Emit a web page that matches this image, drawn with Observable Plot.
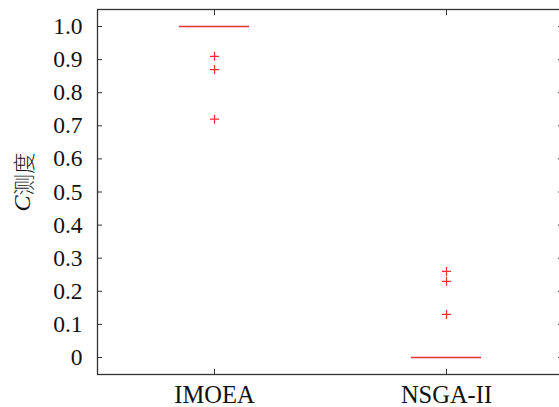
<!DOCTYPE html>
<html>
<head>
<meta charset="utf-8">
<script src="https://cdn.jsdelivr.net/npm/d3@7"></script>
<script src="https://cdn.jsdelivr.net/npm/@observablehq/plot@0.6"></script>
<style>
  html, body { margin: 0; padding: 0; background: #fff; overflow: hidden; }
  #chart svg { display: block; max-width: none; }
</style>
</head>
<body>
<div id="chart"></div>
<script>
// Data
const methods = ["IMOEA", "NSGA-II"];
const medians = [1.0, 0.0];
const outlierMethod = ["IMOEA", "IMOEA", "IMOEA", "NSGA-II", "NSGA-II", "NSGA-II"];
const outlierValues = [0.91, 0.87, 0.72, 0.26, 0.23, 0.13];
const yTicks = [0, 0.1, 0.2, 0.3, 0.4, 0.5, 0.6, 0.7, 0.8, 0.9, 1.0];

const medianData = methods.map((m, i) => ({method: m, value: medians[i]}));
const outlierData = outlierMethod.map((m, i) => ({method: m, value: outlierValues[i]}));

const red = "#e8302f";
const frameColor = "#333";
const serif = "'Liberation Serif', 'DejaVu Serif', serif";

const plot = Plot.plot({
  width: 563,
  height: 407,
  marginLeft: 97,
  marginRight: 1,
  marginTop: 9,
  marginBottom: 33,
  style: {fontFamily: serif, background: "#fff", overflow: "visible"},
  x: {type: "band", domain: methods, paddingInner: 0.7, paddingOuter: 0.348, align: 0.5, label: null},
  y: {domain: [-0.0514, 1.0514], label: null},
  marks: [
    Plot.frame({stroke: frameColor, strokeWidth: 1.3}),
    // y labels
    Plot.axisY(yTicks, {anchor: "left", tickSize: 0, tickPadding: 15, fontSize: 23.5, fill: "#111",
      tickFormat: d => d === 0 ? "0" : d.toFixed(1), label: null}),
    // inward ticks left & right
    Plot.axisY(yTicks, {anchor: "left", tickSize: -5, tickFormat: () => "", stroke: frameColor, label: null}),
    Plot.axisY(yTicks, {anchor: "right", tickSize: -5, tickFormat: () => "", stroke: frameColor, label: null}),
    // x labels
    Plot.axisX({anchor: "bottom", tickSize: 0, tickPadding: 11, fontSize: 24.5, fill: "#111", label: null}),
    Plot.axisX({anchor: "bottom", tickSize: -5, tickFormat: () => "", stroke: frameColor, label: null}),
    Plot.axisX({anchor: "top", tickSize: -5, tickFormat: () => "", stroke: frameColor, label: null}),
    // medians
    Plot.tickY(medianData, {x: "method", y: "value", stroke: red, strokeWidth: 1.6}),
    // outliers
    Plot.dot(outlierData, {x: "method", y: "value", symbol: "plus", r: 3, stroke: red, strokeWidth: 1.2})
  ]
});

// y-axis title: italic C + 测度
const svg = d3.select(plot);
const t = svg.append("text")
  .attr("transform", "translate(22,182) rotate(-90)")
  .attr("text-anchor", "middle")
  .attr("dominant-baseline", "central")
  .attr("fill", "#111");
t.append("tspan").text("C").attr("font-style", "italic").attr("font-family", serif).attr("font-size", 24);
t.append("tspan").text("测度").attr("font-family", "'Noto Sans CJK SC', sans-serif").attr("font-size", 21.5).attr("font-weight", 300);

document.getElementById("chart").appendChild(plot);
</script>
</body>
</html>
